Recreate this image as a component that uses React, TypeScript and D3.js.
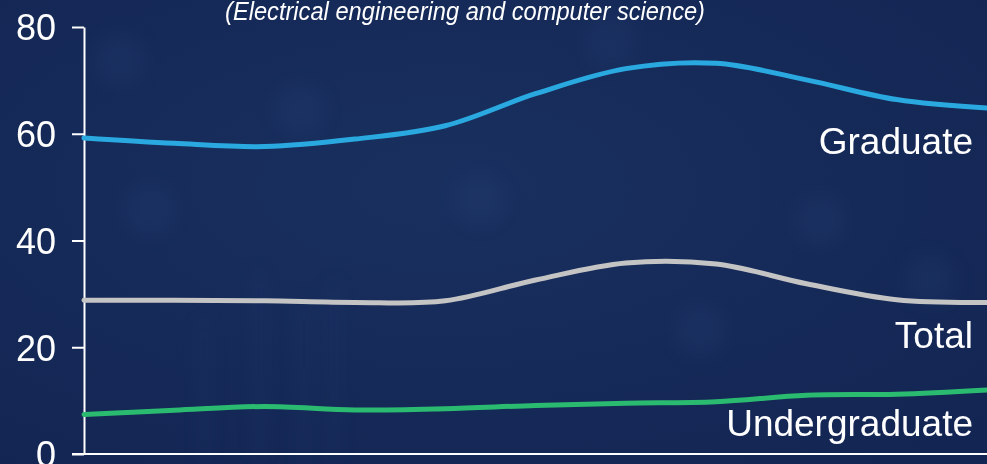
import { useEffect, useRef } from 'react'
import * as d3 from 'd3'

// years are not labelled on the chart; one point per year, evenly spaced
const years = [2000, 2001, 2002, 2003, 2004, 2005, 2006, 2007, 2008, 2009, 2010]
const graduate = [59.2, 58.2, 57.6, 59.0, 61.5, 67.5, 72.2, 73.2, 70.1, 66.4, 64.8]
const total = [28.8, 28.8, 28.7, 28.4, 28.7, 32.6, 35.8, 35.6, 31.9, 28.9, 28.4]
const undergraduate = [7.4, 8.2, 8.9, 8.25, 8.5, 9.1, 9.5, 9.8, 11.0, 11.2, 12.0]
const yTicks = [0, 20, 40, 60, 80]
const title = '(Electrical engineering and computer science)'

const seriesList = [
  { name: 'Graduate', values: graduate, color: '#2aa9e0' },
  { name: 'Total', values: total, color: '#c4c4c4' },
  { name: 'Undergraduate', values: undergraduate, color: '#2bbb70' },
]

const W = 987
const H = 464

export default function App() {
  const ref = useRef<SVGSVGElement | null>(null)

  useEffect(() => {
    const svg = d3.select(ref.current)
    svg.selectAll('*').remove()
    svg.attr('width', W).attr('height', H).style('font-family', '"Liberation Sans", Arial, sans-serif')

    const margin = { top: 27, right: 0, bottom: 10, left: 84 }
    const innerW = W - margin.left - margin.right
    const innerH = H - margin.top - margin.bottom

    // background
    const defs = svg.append('defs')
    const grad = defs.append('radialGradient').attr('id', 'bg').attr('cx', '45%').attr('cy', '40%').attr('r', '75%')
    grad.append('stop').attr('offset', '0%').attr('stop-color', '#19305f')
    grad.append('stop').attr('offset', '100%').attr('stop-color', '#132553')
    defs.append('filter').attr('id', 'blur').append('feGaussianBlur').attr('stdDeviation', 9)
    svg.append('rect').attr('width', W).attr('height', H).attr('fill', 'url(#bg)')

    // faint circuit-like texture
    const tex = svg.append('g').attr('filter', 'url(#blur)').attr('fill', '#2a4a7c').style('opacity', 0.18)
    const bands = [[255, 270, 190], [300, 300, 170], [330, 280, 180], [200, 320, 140]]
    bands.forEach(([bx, by, bh]) => tex.append('rect').attr('x', bx).attr('y', by).attr('width', 8).attr('height', bh))
    const blobs = [[120, 60], [300, 110], [610, 40], [820, 220], [930, 280], [150, 210], [700, 330], [480, 200]]
    blobs.forEach(([cx, cy]) => tex.append('circle').attr('cx', cx).attr('cy', cy).attr('r', 26))

    const g = svg.append('g').attr('transform', `translate(${margin.left},${margin.top})`)

    const x = d3.scalePoint<number>().domain(years).range([0, innerW])
    const y = d3.scaleLinear().domain([0, 80]).range([innerH, 0])

    const yAxis = d3.axisLeft(y).tickValues(yTicks).tickSize(12).tickSizeOuter(0).tickPadding(16)
    const ya = g.append('g').call(yAxis as any)
    ya.select('.domain').attr('stroke', '#fff').attr('stroke-width', 2)
    ya.selectAll('.tick line').attr('stroke', '#fff').attr('stroke-width', 2)
    ya.selectAll('.tick text').attr('fill', '#fff').style('font-size', '36px').attr('dy', '0.36em')

    g.append('line')
      .attr('x1', -12)
      .attr('x2', innerW)
      .attr('y1', innerH)
      .attr('y2', innerH)
      .attr('stroke', '#fff')
      .attr('stroke-width', 2)

    const line = d3
      .line<number>()
      .x((_d, i) => x(years[i]) as number)
      .y((d) => y(d))
      .curve(d3.curveCatmullRom)

    seriesList.forEach((s) => {
      g.append('path')
        .datum(s.values)
        .attr('fill', 'none')
        .attr('stroke', s.color)
        .attr('stroke-width', 5)
        .attr('stroke-linecap', 'round')
        .attr('d', line as any)

      const last = s.values[s.values.length - 1]
      g.append('text')
        .attr('x', innerW - 14)
        .attr('y', y(last) + 46)
        .attr('text-anchor', 'end')
        .attr('fill', '#fff')
        .style('font-size', '37px')
        .text(s.name)
    })

    svg
      .append('text')
      .attr('x', 465)
      .attr('y', 20)
      .attr('text-anchor', 'middle')
      .attr('fill', '#fff')
      .attr('textLength', 480)
      .attr('lengthAdjust', 'spacingAndGlyphs')
      .style('font-size', '26px')
      .style('font-style', 'italic')
      .text(title)
  }, [])

  return (
    <div style={{ position: 'fixed', left: 0, top: 0, width: W, height: H, overflow: 'hidden' }}>
      <svg ref={ref} style={{ display: 'block' }} />
    </div>
  )
}
